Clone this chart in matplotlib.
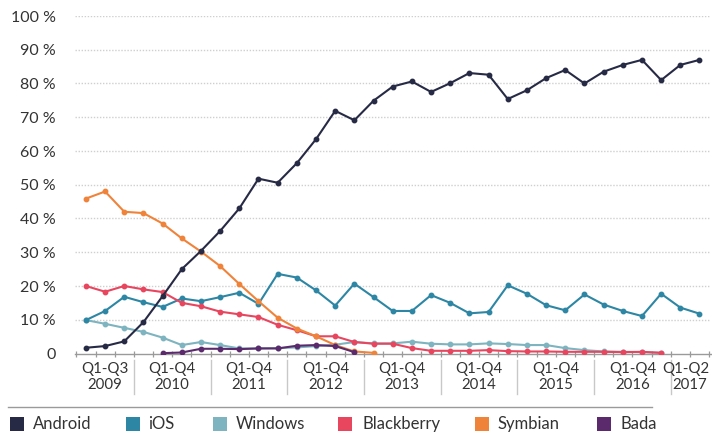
import numpy as np
import matplotlib
matplotlib.use("Agg")
import matplotlib.pyplot as plt
from matplotlib.patches import Rectangle
from matplotlib.transforms import blended_transform_factory

plt.rcParams["font.family"] = ["Lato", "DejaVu Sans"]

# Quarterly smartphone OS market share (%), Q1 2009 .. Q2 2017
years = ["2009", "2010", "2011", "2012", "2013", "2014", "2015", "2016", "2017"]
year_ranges = ["Q1-Q3", "Q1-Q4", "Q1-Q4", "Q1-Q4", "Q1-Q4", "Q1-Q4", "Q1-Q4", "Q1-Q4", "Q1-Q2"]
quarters_per_year = [3, 4, 4, 4, 4, 4, 4, 4, 2]

android = [1.7, 2.2, 3.6, 9.3, 17.0, 25.0, 30.4, 36.3, 43.0, 51.8, 50.6, 56.4, 63.5,
           71.9, 69.1, 74.9, 79.1, 80.6, 77.5, 80.1, 83.1, 82.6, 75.4, 78.0, 81.6,
           84.0, 80.0, 83.5, 85.5, 87.0, 81.0, 85.5, 87.0]
ios = [9.9, 12.6, 16.8, 15.2, 13.8, 16.3, 15.5, 16.7, 18.0, 14.7, 23.6, 22.5, 18.7,
       14.2, 20.7, 16.7, 12.6, 12.6, 17.3, 15.0, 11.9, 12.3, 20.2, 17.7, 14.3, 12.8,
       17.5, 14.5, 12.6, 11.1, 17.7, 13.6, 11.8]
windows = [9.9, 8.8, 7.6, 6.4, 4.7, 2.5, 3.4, 2.5, 1.5, 1.5, 1.6, 1.8, 2.2, 2.6, 3.4,
           3.0, 3.0, 3.5, 2.9, 2.7, 2.7, 3.0, 2.8, 2.5, 2.5, 1.6, 1.0, 0.6, 0.5, 0.4, 0.2]
blackberry = [20.0, 18.3, 20.0, 19.0, 18.2, 15.0, 14.0, 12.4, 11.6, 10.8, 8.5, 6.9,
              5.1, 5.1, 3.4, 2.9, 2.9, 1.6, 0.8, 0.8, 0.8, 1.0, 0.7, 0.6, 0.6, 0.5,
              0.5, 0.5, 0.4, 0.5, 0.2]
symbian = [45.9, 48.0, 42.0, 41.6, 38.5, 34.1, 30.2, 25.9, 20.6, 15.5, 10.6, 7.4,
           5.1, 2.5, 0.6, 0.2]
bada = [0.1, 0.3, 1.4, 1.4, 1.3, 1.5, 1.5, 2.3, 2.5, 2.2, 0.4]
bada_start = 4  # first quarter with Bada figures (Q2 2010)

series_names = ["Android", "iOS", "Windows", "Blackberry", "Symbian", "Bada"]
series_colors = ["#262a45", "#2c86a4", "#7db4bf", "#e8465f", "#f0833a", "#5b2a6c"]

n_quarters = sum(quarters_per_year)

W, H, DPI = 712, 436, 100
fig = plt.figure(figsize=(W / DPI, H / DPI), dpi=DPI)
fig.patch.set_facecolor("white")

ax_left, ax_right = 75, 711
ax_top, ax_bottom = 16, 353.5
ax = fig.add_axes([ax_left / W, 1 - ax_bottom / H,
                   (ax_right - ax_left) / W, (ax_bottom - ax_top) / H])
ax.set_xlim(-0.57, n_quarters - 1 + 0.6)
ax.set_ylim(0, 100)

data = {
    "Android": (0, android),
    "iOS": (0, ios),
    "Windows": (0, windows),
    "Blackberry": (0, blackberry),
    "Symbian": (0, symbian),
    "Bada": (bada_start, bada),
}
draw_order = ["Windows", "iOS", "Blackberry", "Symbian", "Bada", "Android"]
for z, name in enumerate(draw_order):
    start, vals = data[name]
    x = np.arange(start, start + len(vals))
    color = series_colors[series_names.index(name)]
    ax.plot(x, vals, color=color, lw=1.5, marker="o", ms=3.2,
            mec=color, mfc=color, zorder=3 + z, solid_joinstyle="round")

# Horizontal dotted grid and percentage labels
yticks = np.arange(0, 101, 10)
ax.set_yticks(yticks)
ax.set_yticklabels(["0"] + [f"{v} %" for v in yticks[1:]])
for v in yticks[1:]:
    ax.axhline(v, color="#cfcfcf", lw=1.0, ls=(0, (1, 1.2)), zorder=1)
ax.tick_params(axis="y", length=0, pad=14, labelsize=11.5, labelcolor="#333333")

# Bottom axis with quarter ticks
for s in ["top", "right", "left"]:
    ax.spines[s].set_visible(False)
ax.spines["bottom"].set_color("#9a9a9a")
ax.spines["bottom"].set_linewidth(1.0)
ax.set_xticks(np.arange(-0.5, n_quarters, 1.0))
ax.set_xticklabels([])
ax.tick_params(axis="x", direction="inout", length=5, width=0.9, color="#9a9a9a")

# Year labels and separators under the axis
trans = blended_transform_factory(ax.transData, fig.transFigure)
label_kw = dict(va="center", fontsize=10.8, color="#333333")
pos = 0
for i, (yr, rng, nq) in enumerate(zip(years, year_ranges, quarters_per_year)):
    center = pos + (nq - 1) / 2
    if i == len(years) - 1:
        # last (partial) year sits against the right edge
        fig.text(709 / W, 1 - 369 / H, rng, ha="right", **label_kw)
        fig.text(707 / W, 1 - 385 / H, yr, ha="right", **label_kw)
    else:
        ax.text(center, 1 - 369 / H, rng, transform=trans, ha="center", **label_kw)
        ax.text(center, 1 - 385 / H, yr, transform=trans, ha="center", **label_kw)
    if i > 0:
        sep = pos - 0.5
        ax.plot([sep, sep], [1 - 360 / H, 1 - 394 / H], transform=trans,
                color="#c8c8c8", lw=1.0, clip_on=False)
    pos += nq

# Rule above the legend
fig.add_artist(plt.Line2D([8 / W, 652 / W], [1 - 407 / H, 1 - 407 / H],
                          color="#9a9a9a", lw=1.0))

# Legend with square swatches
swatch_x = [10, 126, 213, 338, 475, 597]
text_x = [33, 148, 236, 362, 498, 620]
leg_y = 424
for name, color, sx, tx in zip(series_names, series_colors, swatch_x, text_x):
    fig.add_artist(Rectangle((sx / W, 1 - (leg_y + 7) / H), 14 / W, 14 / H,
                             transform=fig.transFigure, facecolor=color,
                             edgecolor="none"))
    fig.text(tx / W, 1 - leg_y / H, name, ha="left", va="center",
             fontsize=12, color="#333333")

fig.savefig("out.png", dpi=DPI, facecolor="white")
